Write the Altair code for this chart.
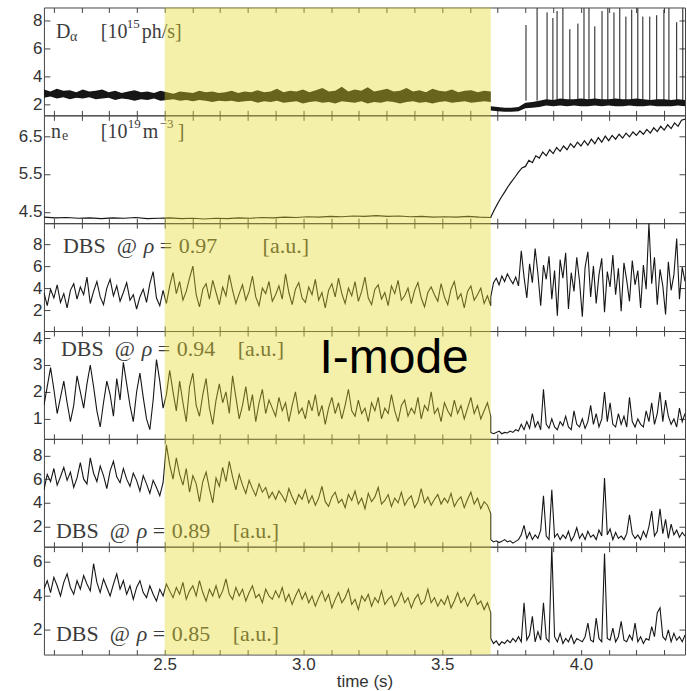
import altair as alt
import numpy as np
import pandas as pd

# ---------------- data ----------------
T_START, T_END, T_LH = 2.065, 4.375, 3.675
band_start = [2.5]
band_end = [3.675]
x_ticks = [2.1, 2.2, 2.3, 2.4, 2.5, 2.6, 2.7, 2.8, 2.9, 3.0, 3.1, 3.2, 3.3,
           3.4, 3.5, 3.6, 3.7, 3.8, 3.9, 4.0, 4.1, 4.2, 4.3]
x_labels = ["2.5", "3.0", "3.5", "4.0"]

# D-alpha: envelope of the dense trace (low / high) before and after the L-H transition
da_pre_hi = [3.1, 2.95, 3.15, 3.0, 3.05, 2.9, 3.1, 2.95, 3.0, 3.1, 2.9, 3.0, 2.85, 2.95, 3.05, 2.9,
             2.95, 2.85, 3.0, 2.9, 2.8, 2.95, 2.9, 2.85, 3.0, 2.9, 2.95, 2.85, 2.9, 3.0, 2.85, 2.95,
             2.9, 3.05, 2.9, 2.95, 3.15, 2.9, 3.0, 2.95, 3.1, 2.9, 3.05, 3.2, 2.95, 3.0, 3.3, 2.95,
             3.1, 3.0, 3.25, 2.95, 3.05, 3.15, 2.95, 3.0, 3.2, 2.95, 3.05, 2.9, 3.15, 3.0, 2.95, 3.1,
             2.9, 3.0, 3.05, 2.9, 3.0, 2.95]
da_pre_lo = [2.5, 2.6, 2.45, 2.55, 2.4, 2.5, 2.45, 2.55, 2.4, 2.45, 2.5, 2.35, 2.45, 2.4, 2.3, 2.4,
             2.35, 2.45, 2.3, 2.35, 2.4, 2.3, 2.35, 2.25, 2.35, 2.3, 2.2, 2.3, 2.25, 2.3, 2.2, 2.25,
             2.3, 2.15, 2.25, 2.2, 2.3, 2.15, 2.2, 2.25, 2.1, 2.2, 2.25, 2.15, 2.2, 2.1, 2.25, 2.2,
             2.15, 2.25, 2.1, 2.2, 2.15, 2.25, 2.2, 2.1, 2.2, 2.25, 2.15, 2.2, 2.1, 2.2, 2.25, 2.15,
             2.2, 2.25, 2.15, 2.2, 2.25, 2.2]
da_post_hi = [1.9, 1.85, 1.8, 1.8, 1.85, 2.15, 2.2, 2.3, 2.4, 2.35, 2.45, 2.4, 2.4, 2.45, 2.4,
              2.45, 2.4, 2.4, 2.45, 2.4, 2.4, 2.45, 2.4, 2.35, 2.4, 2.4, 2.35, 2.4, 2.35]
da_post_lo = [1.6, 1.55, 1.5, 1.5, 1.55, 1.75, 1.8, 1.85, 1.95, 1.9, 1.95, 1.9, 1.95, 1.9, 1.9,
              1.95, 1.9, 1.95, 1.9, 1.9, 1.95, 1.9, 1.9, 1.95, 1.9, 1.9, 1.9, 1.95, 1.9]
elm_t = [3.802, 3.842, 3.878, 3.899, 3.914, 3.935, 3.960, 3.989, 4.011, 4.029, 4.050, 4.076, 4.097,
         4.119, 4.140, 4.162, 4.183, 4.205, 4.223, 4.248, 4.273, 4.299, 4.317, 4.345, 4.367]
elm_peak = [7.7, 8.9, 8.6, 8.2, 8.7, 8.9, 7.4, 7.8, 8.9, 8.9, 7.6, 8.7, 8.9, 8.6, 8.9, 8.3, 8.8,
            8.9, 8.3, 8.3, 8.4, 8.8, 8.9, 7.9, 8.9]
elm_base = [2.3] * len(elm_t)

# line-averaged density
ne_pre = [4.36, 4.34, 4.35, 4.33, 4.34, 4.32, 4.34, 4.33, 4.35, 4.32, 4.33, 4.34, 4.32, 4.33, 4.31,
          4.33, 4.32, 4.34, 4.33, 4.35, 4.34, 4.36, 4.35, 4.37, 4.36, 4.38, 4.37, 4.39, 4.38, 4.40,
          4.38, 4.39, 4.37, 4.38, 4.36, 4.37, 4.36, 4.38, 4.36, 4.35]
ne_post = [4.36, 4.55, 4.72, 4.88, 5.02, 5.17, 5.30, 5.42, 5.55, 5.66, 5.70, 5.86, 5.80, 5.98, 5.92,
           6.08, 5.98, 6.14, 6.04, 6.20, 6.10, 6.24, 6.14, 6.30, 6.20, 6.34, 6.24, 6.38, 6.26, 6.42,
           6.30, 6.46, 6.34, 6.50, 6.38, 6.52, 6.42, 6.55, 6.45, 6.58, 6.48, 6.61, 6.52, 6.64, 6.55,
           6.68, 6.58, 6.72, 6.62, 6.76, 6.66, 6.80, 6.70, 6.85, 6.76, 6.92, 6.95]

# DBS rho = 0.97
dbs97_pre = [3.6, 2.4, 3.9, 3.1, 4.3, 2.7, 3.5, 2.2, 3.8, 4.4,
             3.0, 4.1, 3.4, 5.0, 2.6, 3.7, 4.6, 3.2, 2.5, 4.0,
             4.8, 3.3, 4.2, 2.8, 3.6, 4.5, 2.9, 3.4, 2.1, 3.2,
             3.9, 2.7, 4.4, 5.5, 3.1, 2.4, 3.8, 2.6, 4.2, 5.4,
             3.5, 4.6, 2.9, 3.7, 4.9, 6.0, 3.4, 2.3, 3.9, 4.4,
             3.0, 4.7, 3.6, 2.5, 4.1, 3.3, 5.2, 3.8, 2.6, 3.5,
             4.3, 2.9, 3.7, 5.1, 3.2, 2.4, 4.0, 3.5, 4.6, 2.8,
             3.4, 4.2, 3.0, 5.3, 3.6, 2.5, 3.9, 4.5, 3.1, 2.7,
             4.1, 3.4, 4.8, 2.9, 3.6, 2.2, 3.8, 4.4, 3.2, 4.9,
             3.5, 2.6, 4.0, 3.3, 4.6, 2.8, 3.7, 5.0, 3.1, 2.5,
             3.9, 4.3, 3.0, 3.6, 2.4, 4.2, 3.5, 4.7, 2.9, 3.3,
             4.0, 2.6, 3.8, 4.5, 3.1, 2.3, 3.6, 4.1, 3.4, 2.8,
             4.4, 3.2, 2.5, 3.9, 4.6, 3.0, 3.5, 2.2, 3.7, 4.2,
             2.9, 3.4, 4.0, 2.6, 3.3, 2.4]
dbs97_post = [3.2, 4.5, 4.9, 4.3, 5.1, 4.6, 5.3, 4.8, 4.4, 5.0,
              4.2, 7.4, 5.0, 3.1, 6.2, 4.5, 7.6, 5.3, 2.4, 6.1,
              4.8, 6.9, 3.0, 5.6, 1.5, 6.6, 4.9, 7.2, 2.1, 5.4,
              3.7, 6.8, 4.6, 1.4, 5.9, 7.3, 3.2, 6.0, 2.6, 5.2,
              6.7, 1.8, 5.5, 4.1, 7.0, 3.4, 5.8, 1.9, 6.3, 4.7,
              2.8, 6.5, 4.3, 5.6, 2.2, 6.1, 3.9, 9.9, 4.4, 6.8,
              2.5, 5.7, 4.2, 1.6, 6.4, 3.8, 5.2, 8.5, 3.0, 5.9,
              4.6]

# DBS rho = 0.94
dbs94_pre = [1.5, 2.2, 2.9, 2.1, 1.2, 1.8, 2.4, 1.6, 0.9, 1.5,
             2.6, 2.0, 1.4, 2.3, 3.0, 2.2, 1.3, 0.7, 1.6, 2.4,
             1.9, 1.1, 2.5, 1.7, 3.1, 2.3, 1.5, 0.9, 2.0, 2.7,
             1.8, 1.0, 0.6, 1.7, 3.2, 2.4, 1.4, 1.9, 2.8, 2.0,
             1.3, 2.4, 1.6, 0.9, 2.2, 2.7, 1.5, 1.1, 1.9, 2.5,
             1.4, 0.8, 1.7, 2.3, 1.6, 2.0, 1.2, 2.6, 1.8, 1.0,
             1.5, 2.2, 1.3, 1.9, 0.9, 1.6, 2.1, 1.2, 1.7, 1.4,
             1.1, 1.8, 1.3, 1.6, 0.9, 1.5, 2.0, 1.2, 1.4, 1.0,
             1.7, 1.3, 1.9, 1.1, 1.5, 0.8, 1.4, 1.8, 1.2, 1.6,
             1.0, 1.5, 2.1, 1.3, 1.1, 1.7, 1.2, 1.4, 0.9, 1.6,
             1.3, 1.8, 1.0, 1.4, 1.2, 1.9, 1.3, 0.9, 1.5, 1.7,
             1.1, 1.4, 1.2, 1.8, 1.0, 1.5, 1.3, 2.0, 1.2, 1.4,
             0.9, 1.6, 1.3, 1.1, 1.7, 1.2, 1.5, 1.0, 1.4, 1.8,
             1.2, 1.5, 1.0, 1.3, 1.6, 1.1]
dbs94_post = [0.5, 0.45, 0.5, 0.55, 0.45, 0.5, 0.48, 0.55, 0.5, 0.6,
              0.55, 0.8, 0.6, 0.9, 0.65, 1.2, 0.7, 0.9, 0.6, 2.1,
              0.8, 0.65, 1.0, 0.7, 0.6, 0.9, 0.75, 1.1, 0.7, 0.6,
              1.3, 0.8, 0.7, 1.0, 0.65, 0.9, 1.5, 0.8, 1.2, 0.7,
              1.0, 2.0, 0.9, 1.6, 0.8, 0.7, 1.2, 0.8, 1.1, 0.7,
              1.8, 0.9, 0.7, 1.0, 0.8, 0.7, 1.3, 0.9, 1.6, 0.8,
              1.2, 2.0, 0.9, 1.7, 1.1, 0.8, 1.0, 0.7, 1.4, 0.9,
              1.2]

# DBS rho = 0.89
dbs89_pre = [5.1, 6.4, 5.8, 6.9, 5.5, 6.2, 7.0, 5.9, 6.6, 5.3,
             6.1, 7.4, 6.0, 5.6, 7.8, 6.5, 5.8, 7.1, 6.3, 5.2,
             6.7, 7.5, 6.2, 5.7, 6.9, 6.0, 5.4, 6.5, 5.9, 5.0,
             6.3, 5.6, 4.8, 5.9, 5.3, 4.6, 5.7, 8.9, 7.2, 6.0,
             7.8, 6.4, 5.5, 6.9, 4.9, 6.3, 5.6, 4.1, 5.8, 6.6,
             5.2, 4.0, 6.1, 5.4, 7.0, 5.8, 7.5, 6.2, 5.1, 6.4,
             5.5, 4.8, 5.9, 5.2, 4.6, 5.6, 4.9, 5.3, 4.4, 4.9,
             4.3, 5.0, 4.6, 4.1, 5.2, 4.5, 3.9, 4.7, 4.3, 5.1,
             4.0, 4.6, 3.8, 4.4, 5.4, 4.1, 3.7, 4.5, 4.9, 4.0,
             4.3, 3.6, 4.7, 4.2, 5.0, 3.9, 4.4, 3.5, 4.8, 4.1,
             4.5, 5.3, 3.9, 4.2, 4.7, 3.7, 4.4, 4.0, 4.9, 3.8,
             4.3, 4.6, 3.6, 4.1, 5.2, 4.0, 4.5, 3.8, 4.3, 4.7,
             3.9, 4.4, 4.0, 4.8, 3.7, 4.2, 4.5, 3.6, 4.3, 4.9,
             3.9, 4.4, 3.5, 4.1, 3.8, 3.1]
dbs89_post = [0.9, 0.7, 0.8, 0.65, 0.75, 0.9, 0.7, 0.8, 0.6, 0.75,
              0.9, 1.3, 2.1, 1.0, 1.5, 0.9, 1.3, 1.0, 1.7, 4.6,
              1.2, 0.9, 5.1, 1.1, 1.4, 0.9, 1.3, 1.0, 1.6, 0.8,
              1.2, 1.9, 1.0, 1.4, 0.9, 1.6, 1.1, 1.3, 0.9, 1.7,
              1.2, 6.1, 1.3, 1.8, 0.9, 1.5, 1.0, 1.2, 0.9, 1.4,
              3.0, 1.4, 1.0, 1.3, 0.9, 1.6, 1.1, 2.0, 3.3, 1.2,
              1.6, 3.5, 1.4, 2.6, 1.0, 2.2, 1.3, 1.7, 1.1, 1.5,
              1.2]

# DBS rho = 0.85
dbs85_pre = [4.4, 4.9, 4.2, 5.1, 4.6, 4.0, 4.8, 5.3, 4.5, 4.1,
             4.9, 4.4, 5.2, 4.7, 4.3, 5.9, 4.8, 4.2, 5.0, 4.5,
             4.0, 4.7, 5.3, 4.4, 4.9, 4.1, 4.6, 3.8, 4.5, 4.9,
             4.2, 3.9, 4.6, 4.1, 3.7, 4.4, 4.0, 4.7, 4.3, 3.9,
             4.5, 4.1, 4.8, 3.8, 4.3, 4.6, 4.0, 4.9, 4.2, 3.7,
             4.4, 4.0, 4.6, 3.9, 4.3, 5.0, 4.1, 3.8, 4.5, 4.0,
             4.4, 3.7, 4.2, 4.6, 3.9, 4.1, 3.6, 4.4, 4.0, 3.8,
             4.3, 3.9, 4.5, 3.7, 4.1, 3.5, 4.0, 4.4, 3.8, 4.2,
             3.6, 4.0, 3.4, 3.9, 4.3, 3.7, 4.1, 3.3, 3.8, 4.2,
             3.6, 3.9, 4.4, 3.5, 3.8, 3.2, 4.0, 3.7, 4.1, 3.4,
             3.9, 3.6, 4.3, 3.5, 3.8, 4.0, 3.4, 3.7, 4.2, 3.6,
             3.9, 3.3, 3.8, 4.1, 3.5, 3.7, 4.4, 3.6, 3.9, 3.4,
             3.8, 3.5, 4.0, 3.3, 3.7, 4.2, 3.6, 3.9, 3.4, 3.8,
             4.1, 3.5, 3.7, 3.2, 3.6, 3.0]
dbs85_post = [1.5, 1.2, 1.35, 1.1, 1.3, 1.2, 1.4, 1.25, 1.5, 1.3,
              1.6, 1.3, 3.6, 1.4, 1.7, 2.8, 1.3, 1.9, 1.4, 3.6,
              1.5, 1.3, 6.9, 1.6, 1.3, 1.8, 1.2, 1.5, 1.3, 1.7,
              1.2, 1.5, 1.4, 1.3, 1.6, 2.4, 1.4, 1.3, 2.7, 1.5,
              1.3, 6.5, 1.5, 1.4, 2.1, 1.3, 1.6, 2.5, 1.4, 1.3,
              1.7, 1.4, 2.4, 1.3, 1.6, 1.2, 1.5, 1.4, 2.2, 1.6,
              3.0, 3.3, 1.6, 1.4, 2.0, 1.3, 1.8, 1.4, 1.6, 1.3,
              1.7]

# ---------------- style ----------------
W, H = 642, 108
FRAME = "#444444"
LINE = "#161616"
TXT = "#3c3c3c"
YELLOW = "#E4D628"
SANS = "Liberation Sans"
SERIF = "Liberation Serif"

xscale = alt.Scale(domain=[T_START, T_END], nice=False, zero=False)
band_df = pd.DataFrame({"s": band_start, "e": band_end})
one = pd.DataFrame({"k": [0]})


def line_df(pre, post):
    t = np.concatenate([np.linspace(T_START, T_LH, len(pre)), np.linspace(T_LH, T_END, len(post))])
    v = list(pre) + list(post)
    return pd.DataFrame({"t": t, "v": v, "i": np.arange(len(v))})


def x_axis(bottom):
    kw = dict(orient="bottom", values=x_ticks, tickSize=5, offset=-5, domain=False, grid=False,
              tickColor=FRAME, tickWidth=1)
    if bottom:
        cond = "indexof(" + str(x_labels) + ", format(datum.value, '.1f')) >= 0"
        kw.update(labelExpr=cond + " ? format(datum.value, '.1f') : ''",
                  labelFont=SANS, labelFontSize=17, labelColor="#333", labelPadding=2,
                  labelOverlap=False, labelFlush=False,
                  title="time (s)", titleFont=SANS, titleFontSize=17, titleFontWeight="normal",
                  titleColor="#333", titlePadding=1)
    else:
        kw.update(labels=False, title=None)
    return alt.Axis(**kw)


def y_left(values, fmt):
    return alt.Axis(orient="left", values=values, format=fmt, tickSize=6, offset=-6, domain=False,
                    grid=False, tickColor=FRAME, labelFont=SANS, labelFontSize=17, labelColor="#333",
                    labelPadding=2, labelFlush=False, labelOverlap=False, title=None)


def y_right(values):
    return alt.Axis(orient="right", values=values, labels=False, tickSize=6, offset=-6, domain=False,
                    grid=False, tickColor=FRAME, title=None)


top_axis = alt.Axis(orient="top", values=x_ticks, labels=False, tickSize=5, offset=-5, domain=False,
                    grid=False, tickColor=FRAME, title=None)


def txt(s, px, py, size=22, italic=False, color=TXT, font=SERIF, baseline="middle"):
    kw = dict(text=s, x=px, y=py, align="left", baseline=baseline, font=font, fontSize=size, color=color)
    if italic:
        kw["fontStyle"] = "italic"
    return alt.Chart(one).mark_text(**kw)


def band():
    return alt.Chart(band_df).mark_rect(color=YELLOW, opacity=0.4).encode(
        x=alt.X("s:Q", scale=xscale, axis=None), x2="e:Q")


def ghost(df, ysc, yvals):
    return alt.Chart(df).mark_line(opacity=0).encode(
        x=alt.X("t:Q", scale=xscale, axis=top_axis),
        y=alt.Y("v:Q", scale=ysc, axis=y_right(yvals)), order="i:Q")


def dbs_label(rho, px, py, au_x):
    return [txt("DBS", px, py), txt("@", px + 54, py), txt("ρ", px + 81, py, italic=True),
            txt("=", px + 97, py), txt(rho, px + 116, py), txt("[a.u.]", au_x, py)]


def dbs_panel(pre, post, ydom, yvals, labels, bottom=False, extra=()):
    df = line_df(pre, post)
    ysc = alt.Scale(domain=ydom, nice=False, zero=False)
    line = alt.Chart(df).mark_line(color=LINE, strokeWidth=1.1, clip=True).encode(
        x=alt.X("t:Q", scale=xscale, axis=x_axis(bottom)),
        y=alt.Y("v:Q", scale=ysc, axis=y_left(yvals, "d")), order="i:Q")
    layers = [line, ghost(df, ysc, yvals)] + labels + [band()] + list(extra)
    return alt.layer(*layers).resolve_axis(x="independent", y="independent").properties(width=W, height=H)


# Panel 1: D-alpha
da_df = pd.concat([
    pd.DataFrame({"t": np.linspace(T_START, T_LH, len(da_pre_hi)), "lo": da_pre_lo, "hi": da_pre_hi, "seg": "pre"}),
    pd.DataFrame({"t": np.linspace(T_LH, T_END, len(da_post_hi)), "lo": da_post_lo, "hi": da_post_hi, "seg": "post"}),
])
elm_df = pd.DataFrame({"t": elm_t, "b": elm_base, "p": elm_peak})
ysc1 = alt.Scale(domain=[1.25, 8.95], nice=False, zero=False)
p1_area = alt.Chart(da_df).mark_area(color=LINE, clip=True).encode(
    x=alt.X("t:Q", scale=xscale, axis=x_axis(False)),
    y=alt.Y("lo:Q", scale=ysc1, axis=y_left([2, 4, 6, 8], "d")), y2="hi:Q", detail="seg:N")
p1_spk = alt.Chart(elm_df).mark_rule(color=LINE, strokeWidth=1, clip=True).encode(
    x=alt.X("t:Q", scale=xscale, axis=None), y=alt.Y("b:Q", scale=ysc1, axis=None), y2="p:Q")
p1_ghost = alt.Chart(da_df).mark_line(opacity=0).encode(
    x=alt.X("t:Q", scale=xscale, axis=top_axis), y=alt.Y("lo:Q", scale=ysc1, axis=y_right([2, 4, 6, 8])))
p1_lab = [txt("D", 12, 25, 20), txt("α", 26, 30, 14), txt("[10", 57, 25, 20),
          txt("15", 83, 17, 13), txt("ph/s]", 98, 25, 20)]
panel1 = alt.layer(p1_area, p1_spk, p1_ghost, *p1_lab, band()).resolve_axis(
    x="independent", y="independent").properties(width=W, height=H)

# Panel 2: density
ne_df = line_df(ne_pre, ne_post)
ysc2 = alt.Scale(domain=[4.2, 7.05], nice=False, zero=False)
p2_line = alt.Chart(ne_df).mark_line(color=LINE, strokeWidth=1.2, clip=True).encode(
    x=alt.X("t:Q", scale=xscale, axis=x_axis(False)),
    y=alt.Y("v:Q", scale=ysc2, axis=y_left([4.5, 5.5, 6.5], ".1f")), order="i:Q")
p2_lab = [txt("n", 7, 17, 20), txt("e", 18, 21, 14), txt("[10", 57, 17, 20),
          txt("19", 84, 9, 13), txt("m", 99, 17, 20), txt("−3", 116, 9, 13), txt("]", 134, 17, 20)]
panel2 = alt.layer(p2_line, ghost(ne_df, ysc2, [4.5, 5.5, 6.5]), *p2_lab, band()).resolve_axis(
    x="independent", y="independent").properties(width=W, height=H)

panel3 = dbs_panel(dbs97_pre, dbs97_post, [0.1, 9.9], [2, 4, 6, 8], dbs_label("0.97", 19, 23, 219))
imode = txt("I-mode", 276, 42, 48, color="#000000", font=SANS, baseline="alphabetic")
panel4 = dbs_panel(dbs94_pre, dbs94_post, [0.26, 4.26], [1, 2, 3, 4], dbs_label("0.94", 17, 18, 194),
                   extra=[imode])
panel5 = dbs_panel(dbs89_pre, dbs89_post, [0.3, 9.4], [2, 4, 6, 8], dbs_label("0.89", 12, 92, 189))
panel6 = dbs_panel(dbs85_pre, dbs85_post, [0.55, 6.9], [2, 4, 6], dbs_label("0.85", 12, 87, 189),
                   bottom=True)

chart = alt.vconcat(panel1, panel2, panel3, panel4, panel5, panel6, spacing=0, bounds="flush").properties(
    padding={"left": 17, "top": 6, "right": 1, "bottom": 4}, background="white"
).configure_view(stroke=FRAME, strokeWidth=1)

chart.save("out.html", embed_options={"renderer": "svg", "actions": False})
